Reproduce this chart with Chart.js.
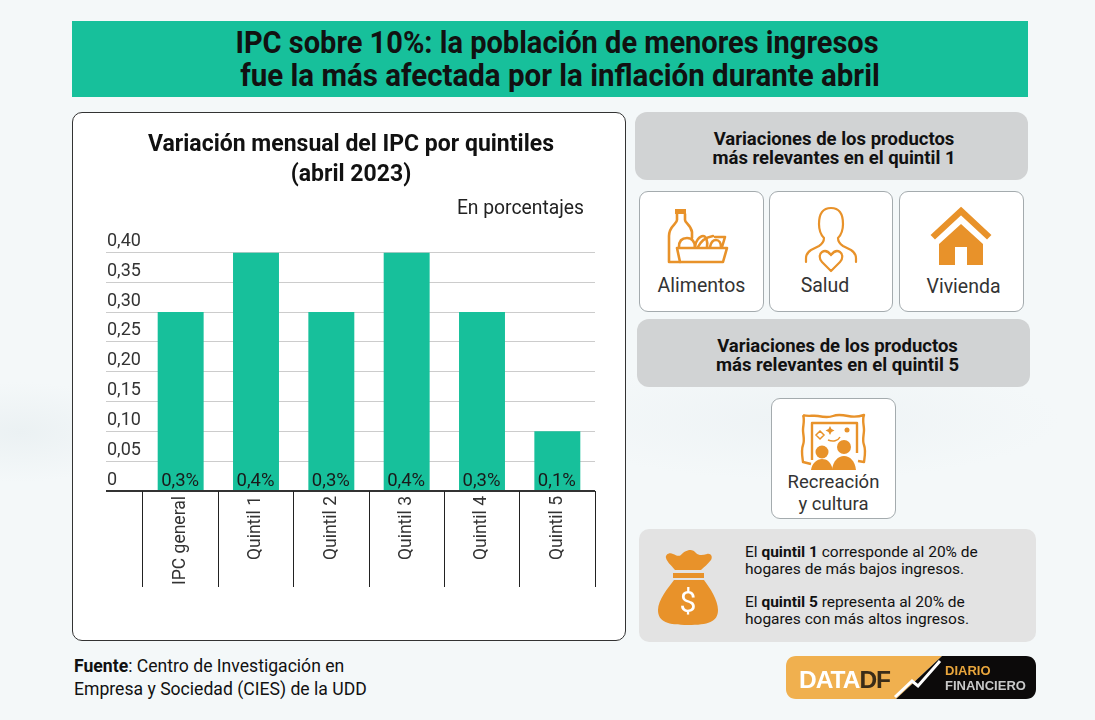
<!DOCTYPE html>
<html lang="es">
<head>
<meta charset="utf-8">
<title>IPC por quintiles</title>
<script src="https://cdn.jsdelivr.net/npm/chart.js@4"></script>
<style>
  html, body { margin: 0; padding: 0; }
  body { width: 1095px; height: 720px; position: relative; overflow: hidden; font-family: Roboto, sans-serif; color: #222;
    background: radial-gradient(ellipse 120px 50px at 20px 432px, #ebf1f3, rgba(235,241,243,0)), radial-gradient(ellipse 260px 60px at 800px 420px, #eef3f5, rgba(238,243,245,0)), #f4f8f9; }
  .abs { position: absolute; box-sizing: border-box; }
  .band { left: 72px; top: 21px; width: 956px; height: 76px; background: #17c09b; color: #111; font-weight: 700; font-size: 31px; line-height: 33px; text-align: center; padding-top: 5px; white-space: nowrap; }
  .band span { display: block; }
  .card { left: 72px; top: 112px; width: 554px; height: 529px; background: #fff; border: 1px solid #333; border-radius: 10px; }
  .head { width: 393px; height: 68px; background: #d1d3d4; border-radius: 12px; font-weight: 700; font-size: 18.5px; line-height: 19px; text-align: center; color: #111; padding-top: 18px; padding-left: 5px; }
  .box { background: #fff; border: 1px solid #a4abae; border-radius: 9px; font-size: 19.5px; color: #333; text-align: center; }
  .box span { position: absolute; left: 0; right: 0; }
  .info { left: 639px; top: 529px; width: 397px; height: 113px; background: #e3e3e3; border-radius: 10px; font-size: 15.5px; line-height: 17px; color: #111; }
  .info div { position: absolute; left: 106px; white-space: nowrap; }
  .src { left: 74px; top: 655px; font-size: 17.6px; line-height: 23px; color: #111; white-space: nowrap; }
  .unit { left: 372px; width: 212px; top: 196px; text-align: right; font-size: 19.3px; color: #222; }
  #chart-wrap { left: 72px; top: 112px; width: 554px; height: 529px; }
  svg.art { position: absolute; left: 0; top: 0; }
</style>
</head>
<body>
<div class="abs band"><span style="transform:translateX(7px) scaleX(.936)">IPC sobre 10%: la población de menores ingresos</span><span style="transform:translateX(10px) scaleX(.951)">fue la más afectada por la inflación durante abril</span></div>
<div class="abs card"></div>
<div class="abs" id="chart-wrap"><canvas id="ipcChart"></canvas></div>
<div class="abs unit">En porcentajes</div>

<div class="abs head" style="left:635px;top:112px">Variaciones de los productos<br>más relevantes en el quintil 1</div>
<div class="abs box" style="left:639px;top:191px;width:125px;height:121px"><span style="top:82px">Alimentos</span></div>
<div class="abs box" style="left:769px;top:191px;width:124px;height:121px"><span style="top:82px;left:-12px">Salud</span></div>
<div class="abs box" style="left:899px;top:191px;width:125px;height:121px"><span style="top:83px;left:4px">Vivienda</span></div>
<div class="abs head" style="left:637px;top:319px;padding-left:8px">Variaciones de los productos<br>más relevantes en el quintil 5</div>
<div class="abs box" style="left:771px;top:398px;width:125px;height:121px;line-height:22px;font-size:18.5px"><span style="top:72px">Recreación<br>y cultura</span></div>

<div class="abs info">
  <div style="top:15px">El <b>quintil 1</b> corresponde al 20% de<br>hogares de más bajos ingresos.</div>
  <div style="top:65px">El <b>quintil 5</b> representa al 20% de<br>hogares con más altos ingresos.</div>
</div>
<div class="abs src"><b>Fuente</b>: Centro de Investigación en<br>Empresa y Sociedad (CIES) de la UDD</div>

<svg class="art" width="1095" height="720" viewBox="0 0 1095 720">
  <!-- alimentos -->
  <g fill="none" stroke="#e8922a" stroke-width="2.6" stroke-linejoin="round" stroke-linecap="round">
    <path d="M677 214v6c0 4-8 6-8 16v26h11"/>
    <path d="M685 214v6c0 3 6 5 7 12v6"/>
    <path d="M677 248h50l-4 14h-43z"/>
    <path d="M679 247c0-6 3-9 8-9s8 4 8 9"/>
    <path d="M695 247c0-6 5-11 8-11s5 5 4 11"/>
    <path d="M698 247c3-6 9-10 15-11"/>
    <path d="M710 247c1-5 3-7 6-7s5 3 5 7"/>
    <path d="M722 247l3-10-10 0"/>
  </g>
  <rect x="675" y="209" width="11" height="5" fill="#e8922a"/>
  <!-- salud -->
  <g fill="none" stroke="#e8922a" stroke-width="2.2" stroke-linecap="round" stroke-linejoin="round">
    <path d="M806 262v-4c0-4 2-6 5-8l8-4c3-2 5-4 5-8-3-3-5-7-5-14 0-12 5-16 12-16s12 4 12 16c0 7-2 11-5 14 0 4 2 6 5 8l8 4c3 2 5 4 5 8v4"/>
    <path d="M831 271l-9-9c-3-3-3-8 0-10s6-1 9 3c3-4 6-5 9-3s3 7 0 10z"/>
  </g>
  <!-- vivienda -->
  <path d="M961 208l29 27-3 3-26-24-26 24-3-3z" fill="#e8922a" stroke="#e8922a" stroke-width="2"/>
  <path d="M961 224l22 20v21h-16v-18h-12v18h-16v-21z" fill="#e8922a"/>
  <!-- recreacion -->
  <g fill="none" stroke="#e8922a" stroke-width="2.4" stroke-linejoin="round">
    <path d="M803 415c5 2 10 0 15 1s10 2 15 0 10-1 15 0 10 1 16-1c-2 5 0 10 0 15s-2 10 0 15 1 10 0 17l-6-1M803 415c2 5 0 10 0 15s2 10 0 15-1 10 0 17l8 2"/>
    <path d="M812 460v-37h45v30"/>
  </g>
  <circle cx="822" cy="452" r="6.5" fill="#e8922a"/>
  <circle cx="844" cy="447" r="7" fill="#e8922a"/>
  <path d="M811 470c1-7 6-11 11-11s9 3 11 11z" fill="#e8922a"/>
  <path d="M832 470c1-9 6-14 12-14s11 5 12 14z" fill="#e8922a"/>
  <circle cx="847" cy="430" r="2.5" fill="#e8922a"/>
  <path d="M830 426l1.500 3 3 1.500-3 1.500-1.500 3-1.500-3-3-1.500 3-1.500z" fill="#e8922a"/>
  <path d="M820 431l4 4-4 4-4-4zM828 440c5 2 10 1 12-3" fill="none" stroke="#e8922a" stroke-width="1.500"/>
  <!-- bolsa -->
  <path d="M673 573h31v5h-31z" fill="#e8922a"/>
  <path d="M675 570c-4-5-8-8-9-12-1-3 3-6 7-4 3 1 5 3 8 1 3-4 11-8 15-2 3 3 7 2 11 1 4-1 6 3 4 6-3 4-7 7-10 10z" fill="#e8922a"/>
  <path d="M674 580h30c6 8 14 20 14 30 0 12-10 15-30 15s-30-3-30-15c0-10 10-22 16-30z" fill="#e8922a"/>
  <text x="688" y="612" text-anchor="middle" font-size="30" font-family="Roboto" fill="#fff">$</text>
  <!-- logo -->
  <path d="M796 656h146l-46 43h-100c-6 0-10-4-10-10v-23c0-6 4-10 10-10z" fill="#f0b04f"/>
  <path d="M942 656h84c6 0 10 4 10 10v23c0 6-4 10-10 10h-130z" fill="#0c0a0a"/>
  <path d="M895 697l17-16 6 5 22-25" fill="none" stroke="#fff" stroke-width="3"/>
  <text x="799" y="688" font-size="24.500" font-weight="700" font-family="Liberation Sans" fill="#fff" letter-spacing="-1">DATA<tspan fill="#3a2c18">DF</tspan></text>
  <text x="945" y="675" font-size="13" font-weight="700" font-family="Liberation Sans" fill="#e9a63c">DIARIO</text>
  <text x="945" y="690" font-size="13" font-weight="700" font-family="Liberation Sans" fill="#c9c9c9">FINANCIERO</text>
</svg>

<script>
const categories = ['IPC general', 'Quintil 1', 'Quintil 2', 'Quintil 3', 'Quintil 4', 'Quintil 5'];
const values = [0.3, 0.4, 0.3, 0.4, 0.3, 0.1];
const barLabels = ['0,3%', '0,4%', '0,3%', '0,4%', '0,3%', '0,1%'];
const yTickLabels = ['0', '0,05', '0,10', '0,15', '0,20', '0,25', '0,30', '0,35', '0,40'];
const titleLines = ['Variación mensual del IPC por quintiles', '(abril 2023)'];

const FONT = 'Roboto';

// texto dentro de la barra, pegado a la base
const barLabelPlugin = {
  id: 'barLabel',
  afterDatasetsDraw(chart) {
    const ctx = chart.ctx;
    const base = chart.scales.y.getPixelForValue(0);
    ctx.save();
    ctx.font = '18.5px ' + FONT;
    ctx.fillStyle = '#1a1a1a';
    ctx.textAlign = 'center';
    ctx.textBaseline = 'alphabetic';
    chart.getDatasetMeta(0).data.forEach(function (bar, i) {
      ctx.fillText(barLabels[i], bar.x - 0.5, base - 5.5);
    });
    ctx.restore();
  }
};

const ctx = document.getElementById('ipcChart').getContext('2d');

new Chart(ctx, {
  type: 'bar',
  data: {
    labels: categories,
    datasets: [{
      data: values,
      backgroundColor: '#17c09b',
      categoryPercentage: 0.61,
      barPercentage: 1
    }]
  },
  options: {
    responsive: true,
    maintainAspectRatio: false,
    animation: false,
    layout: { padding: { top: 0, left: 35, right: 31, bottom: 54 } },
    plugins: {
      legend: { display: false },
      tooltip: { enabled: false },
      title: {
        display: true,
        text: titleLines,
        color: '#111',
        font: { family: FONT, size: 23, weight: 'bold', lineHeight: 1.27 },
        padding: { top: 19, bottom: 63 }
      }
    },
    scales: {
      y: {
        min: 0,
        max: 0.4,
        afterFit(scale) { scale.width = 36; },
        afterBuildTicks(scale) {
          scale.ticks = yTickLabels.map(function (t, i) { return { value: i * 0.05 }; });
        },
        border: { display: false },
        grid: {
          tickLength: 37,
          color: function (c) { return c.index === 0 ? '#333' : '#ccc'; },
          lineWidth: function (c) { return c.index === 0 ? 2 : 1; }
        },
        ticks: {
          crossAlign: 'far',
          labelOffset: -11,
          color: '#333',
          font: { family: FONT, size: 18 },
          callback: function (v, i) { return yTickLabels[i]; }
        }
      },
      x: {
        afterFit(scale) { scale.height = 96; },
        border: { display: false },
        grid: {
          drawOnChartArea: false,
          tickLength: 96,
          color: '#222',
          lineWidth: 1
        },
        ticks: {
          minRotation: 90,
          maxRotation: 90,
          padding: -91,
          autoSkip: false,
          color: '#333',
          font: { family: FONT, size: 17.5 }
        }
      }
    }
  },
  plugins: [barLabelPlugin]
});
</script>
</body>
</html>
